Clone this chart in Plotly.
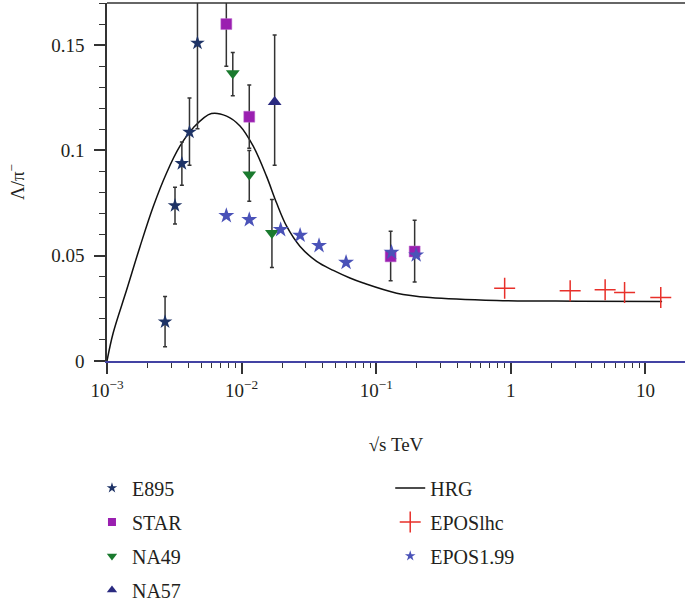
import plotly.graph_objects as go

# ---------------- data ----------------
hrg_x = [0.001, 0.00111, 0.0014, 0.00176, 0.00221, 0.00277, 0.00348, 0.00438,
         0.00596, 0.00774, 0.00973, 0.0122, 0.0153, 0.0182, 0.0216, 0.0272,
         0.0361, 0.048, 0.0638, 0.0802, 0.142, 0.251, 0.785, 3.16, 13.3]
hrg_y = [0.0, 0.0132, 0.0338, 0.0544, 0.0735, 0.0893, 0.1020, 0.1108,
         0.1175, 0.1163, 0.1116, 0.1020, 0.0878, 0.0750, 0.0640, 0.0544,
         0.0473, 0.0430, 0.0394, 0.0370, 0.0322, 0.0301, 0.0287, 0.0284, 0.0283]

e895_x = [0.0027, 0.0032, 0.0036, 0.0041, 0.0047]
e895_y = [0.0186, 0.0738, 0.0938, 0.1087, 0.151]
e895_ep = [0.012, 0.0087, 0.0102, 0.0162, 0.035]
e895_em = [0.0118, 0.0087, 0.0103, 0.0158, 0.0407]

star_x = [0.0077, 0.0114, 0.128, 0.193]
star_y = [0.160, 0.116, 0.0497, 0.052]
star_ep = [0.02, 0.0151, 0.0119, 0.0148]
star_em = [0.020, 0.015, 0.0116, 0.0145]

na49_x = [0.0086, 0.0114, 0.0168]
na49_y = [0.1367, 0.0886, 0.0608]
na49_ep = [0.0098, 0.0114, 0.0159]
na49_em = [0.0108, 0.0127, 0.0164]

na57_x = [0.0176]
na57_y = [0.123]
na57_ep = [0.0318]
na57_em = [0.0301]

eposlhc_x = [0.9, 2.76, 5.02, 7.0, 13.0]
eposlhc_y = [0.0346, 0.0333, 0.0338, 0.0325, 0.0301]

epos199_x = [0.0077, 0.0114, 0.0195, 0.0272, 0.0376, 0.0597, 0.13, 0.198]
epos199_y = [0.069, 0.0671, 0.0624, 0.0597, 0.0548, 0.0468, 0.0516, 0.0503]

x_tickvals = [0.001, 0.01, 0.1, 1, 10]
x_ticktext = ["10<sup>−3</sup>", "10<sup>−2</sup>", "10<sup>−1</sup>", "1", "10"]
y_tickvals = [0, 0.05, 0.1, 0.15]
y_ticktext = ["0", "0.05", "0.1", "0.15"]

FONT = "Times New Roman"
TXT = "#231f20"
ERRC = "#333333"

C_E895 = "#1e3366"
C_STAR = "#9a1fb0"
C_NA49 = "#1a7a2e"
C_NA57 = "#2a2a80"
C_LHC = "#e8302a"
C_E199 = "#4a52b8"

def err(ep, em):
    return dict(type="data", symmetric=False, array=ep, arrayminus=em,
                color=ERRC, thickness=1.5, width=2)

fig = go.Figure()

fig.add_trace(go.Scatter(x=hrg_x, y=hrg_y, mode="lines", name="HRG",
                         line=dict(color="#111111", width=1.5, shape="spline", smoothing=1.0),
                         legend="legend2", legendgroup="g5"))

fig.add_trace(go.Scatter(x=e895_x, y=e895_y, mode="markers", name="E895", showlegend=False,
                         marker=dict(symbol="star", size=11, color=C_E895),
                         error_y=err(e895_ep, e895_em)))
fig.add_trace(go.Scatter(x=star_x, y=star_y, mode="markers", name="STAR", showlegend=False,
                         marker=dict(symbol="square", size=11, color=C_STAR,
                                     line=dict(color="#c070d0", width=0.5)),
                         error_y=err(star_ep, star_em)))
fig.add_trace(go.Scatter(x=na49_x, y=na49_y, mode="markers", name="NA49", showlegend=False,
                         marker=dict(symbol="triangle-down", size=12, color=C_NA49),
                         error_y=err(na49_ep, na49_em)))
fig.add_trace(go.Scatter(x=na57_x, y=na57_y, mode="markers", name="NA57", showlegend=False,
                         marker=dict(symbol="triangle-up", size=12, color=C_NA57),
                         error_y=err(na57_ep, na57_em)))
fig.add_trace(go.Scatter(x=eposlhc_x, y=eposlhc_y, mode="markers", name="EPOSlhc", showlegend=False,
                         marker=dict(symbol="cross-thin", size=15,
                                     line=dict(color=C_LHC, width=1.5))))
fig.add_trace(go.Scatter(x=epos199_x, y=epos199_y, mode="markers", name="EPOS1.99", showlegend=False,
                         marker=dict(symbol="star", size=12, color=C_E199)))

# legend entries (smaller symbols, as in the original key)
legend_items = [
    ("E895", dict(symbol="star", size=8, color=C_E895), "legend", "g1"),
    ("STAR", dict(symbol="square", size=8, color=C_STAR), "legend", "g2"),
    ("NA49", dict(symbol="triangle-down", size=9, color=C_NA49), "legend", "g3"),
    ("NA57", dict(symbol="triangle-up", size=9, color=C_NA57), "legend", "g4"),
    ("EPOSlhc", dict(symbol="cross-thin", size=15, line=dict(color=C_LHC, width=1.5)), "legend2", "g6"),
    ("EPOS1.99", dict(symbol="star", size=8, color=C_E199), "legend2", "g7"),
]
for name, mk, lg, grp in legend_items:
    fig.add_trace(go.Scatter(x=[None], y=[None], mode="markers", name=name,
                             marker=mk, legend=lg, legendgroup=grp, hoverinfo="skip"))

x_minor = [m * 10 ** e for e in range(-3, 2) for m in range(2, 10)]

fig.update_layout(
    width=685, height=606,
    margin=dict(l=107, r=0, t=3, b=245, autoexpand=False),
    paper_bgcolor="white", plot_bgcolor="white",
    font=dict(family=FONT, size=19, color=TXT),
    xaxis=dict(type="log", range=[-3, 1.294], automargin=False,
               tickvals=x_tickvals, ticktext=x_ticktext,
               ticks="outside", ticklen=11, tickwidth=1.5, tickcolor="#333",
               showline=True, linecolor="#4343a3", linewidth=1.5,
               showgrid=False, zeroline=False,
               minor=dict(tickmode="array", tickvals=x_minor, ticks="outside",
                          ticklen=5, tickwidth=1.2, tickcolor="#333", showgrid=False),
               tickfont=dict(size=19, family=FONT),
               title=dict(text="√s TeV", font=dict(size=19, family=FONT), standoff=38)),
    yaxis=dict(range=[0, 0.17], automargin=False,
               tickvals=y_tickvals, ticktext=y_ticktext,
               ticks="outside", ticklen=11, tickwidth=1.5, tickcolor="#333",
               showline=True, linecolor="#333", linewidth=1.5,
               showgrid=False, zeroline=False,
               minor=dict(dtick=0.01, ticks="outside", ticklen=6, tickwidth=1.2,
                          tickcolor="#333", showgrid=False),
               tickfont=dict(size=19, family=FONT), ticklabelstandoff=6,
               title=dict(text="Λ/π<sup>−</sup>", font=dict(size=19, family=FONT), standoff=22)),
    legend=dict(x=-0.026, y=-0.30, xanchor="left", yanchor="top",
                font=dict(size=20, family=FONT, color=TXT),
                bgcolor="rgba(0,0,0,0)", tracegroupgap=5),
    legend2=dict(x=0.49, y=-0.30, xanchor="left", yanchor="top",
                 font=dict(size=20, family=FONT, color=TXT),
                 bgcolor="rgba(0,0,0,0)", tracegroupgap=5),
    shapes=[dict(type="line", xref="paper", yref="paper", x0=0, x1=1, y0=1, y1=1,
                 line=dict(color="#333", width=1.5))],
    showlegend=True,
)

fig.write_html("out.html", config={"displayModeBar": False},
               post_script="document.body.style.margin='0';")
